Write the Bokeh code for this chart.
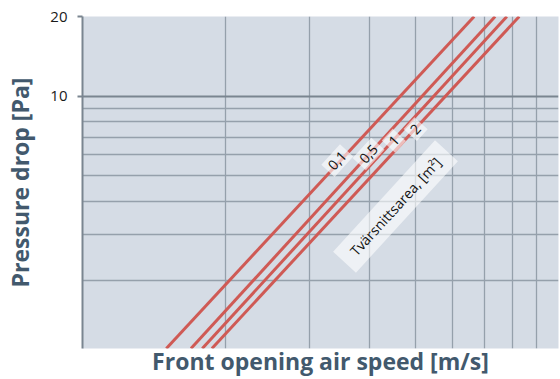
from bokeh.plotting import figure
from bokeh.models import Range1d, FixedTicker, Grid, Label
from bokeh.embed import file_html
from bokeh.resources import INLINE

# --- data ---
area_labels = ["0,1", "0,5", "1", "2"]          # cross-section area [m²]
speed_low = [1.50, 1.69, 1.785, 1.87]           # m/s at the low pressure end
speed_high = [6.65, 7.36, 7.79, 8.27]           # m/s at 20 Pa
pressure_low = [1.11, 1.11, 1.11, 1.11]         # Pa
pressure_high = [20, 20, 20, 20]                # Pa
x_grid_values = [2, 3, 4, 5, 6, 7, 8, 9, 10]
y_grid_values = [2, 3, 4, 5, 6, 7, 8, 9, 20]
y_tick_values = [10, 20]
y_major_line = [10]

TITLE_COLOR = "#42596d"
RED = "#cf5a55"
GRID = "#95a0ab"

p = figure(width=560, height=379, x_axis_type="log", y_axis_type="log",
           x_range=Range1d(1, 10), y_range=Range1d(1.11, 20),
           output_backend="svg", toolbar_location=None,
           min_border_left=82, min_border_right=2, min_border_top=16, min_border_bottom=28)

p.background_fill_color = "#d5dce5"
p.border_fill_color = "white"
p.outline_line_color = None

# grids
p.xgrid.ticker = FixedTicker(ticks=x_grid_values)
p.xgrid.grid_line_color = GRID
p.xgrid.grid_line_width = 1.3
p.ygrid.ticker = FixedTicker(ticks=y_grid_values)
p.ygrid.grid_line_color = GRID
p.ygrid.grid_line_width = 1.3
g10 = Grid(dimension=1, ticker=FixedTicker(ticks=y_major_line),
           grid_line_color="#7a8590", grid_line_width=2)
p.add_layout(g10)

# x axis: label only
p.xaxis.ticker = FixedTicker(ticks=[])
p.xaxis.axis_line_color = None
p.xaxis.major_tick_line_color = None
p.xaxis.minor_tick_line_color = None
p.xaxis.major_tick_out = 0
p.xaxis.major_label_standoff = 0
p.xaxis.axis_label = "Front opening air speed [m/s]"
p.xaxis.axis_label_standoff = -4
p.xaxis.axis_label_text_font = "Open Sans"
p.xaxis.axis_label_text_font_style = "bold"
p.xaxis.axis_label_text_font_size = "23px"
p.xaxis.axis_label_text_color = TITLE_COLOR

# y axis
p.yaxis.ticker = FixedTicker(ticks=y_tick_values)
p.yaxis.axis_line_color = "#7a8590"
p.yaxis.axis_line_width = 2
p.yaxis.major_tick_line_color = "#7a8590"
p.yaxis.major_tick_line_width = 2
p.yaxis.major_tick_out = 5
p.yaxis.major_tick_in = 0
p.yaxis.minor_tick_line_color = None
p.yaxis.major_label_text_font = "Open Sans"
p.yaxis.major_label_text_font_size = "15px"
p.yaxis.major_label_text_color = "#1a1a1a"
p.yaxis.major_label_standoff = 10
p.yaxis.axis_label = "Pressure drop [Pa]"
p.yaxis.axis_label_standoff = 11
p.yaxis.axis_label_text_font = "Open Sans"
p.yaxis.axis_label_text_font_style = "bold"
p.yaxis.axis_label_text_font_size = "23px"
p.yaxis.axis_label_text_color = TITLE_COLOR

# lines
for i in range(len(area_labels)):
    p.line([speed_low[i], speed_high[i]], [pressure_low[i], pressure_high[i]],
           line_color=RED, line_width=3)

ANG = 0.83
label_pos = [(3.43, 5.70), (3.99, 6.04), (4.51, 6.78), (5.01, 7.50)]
for txt, (lx, ly) in zip(area_labels, label_pos):
    p.add_layout(Label(x=lx, y=ly, text=txt, angle=ANG,
                       text_align="center", text_baseline="middle",
                       text_font="Open Sans", text_font_size="14px", text_color="#111111",
                       background_fill_color="white", background_fill_alpha=0.6,
                       padding=4))

p.add_layout(Label(x=4.545, y=3.825, text="Tvärsnittsarea, [m²]", angle=ANG,
                   text_align="center", text_baseline="middle",
                   text_font="Open Sans", text_font_size="14px", text_color="#111111",
                   background_fill_color="white", background_fill_alpha=0.6,
                   padding=dict(left=12, right=12, top=6, bottom=6)))

open("out.html", "w").write(file_html(p, INLINE))
